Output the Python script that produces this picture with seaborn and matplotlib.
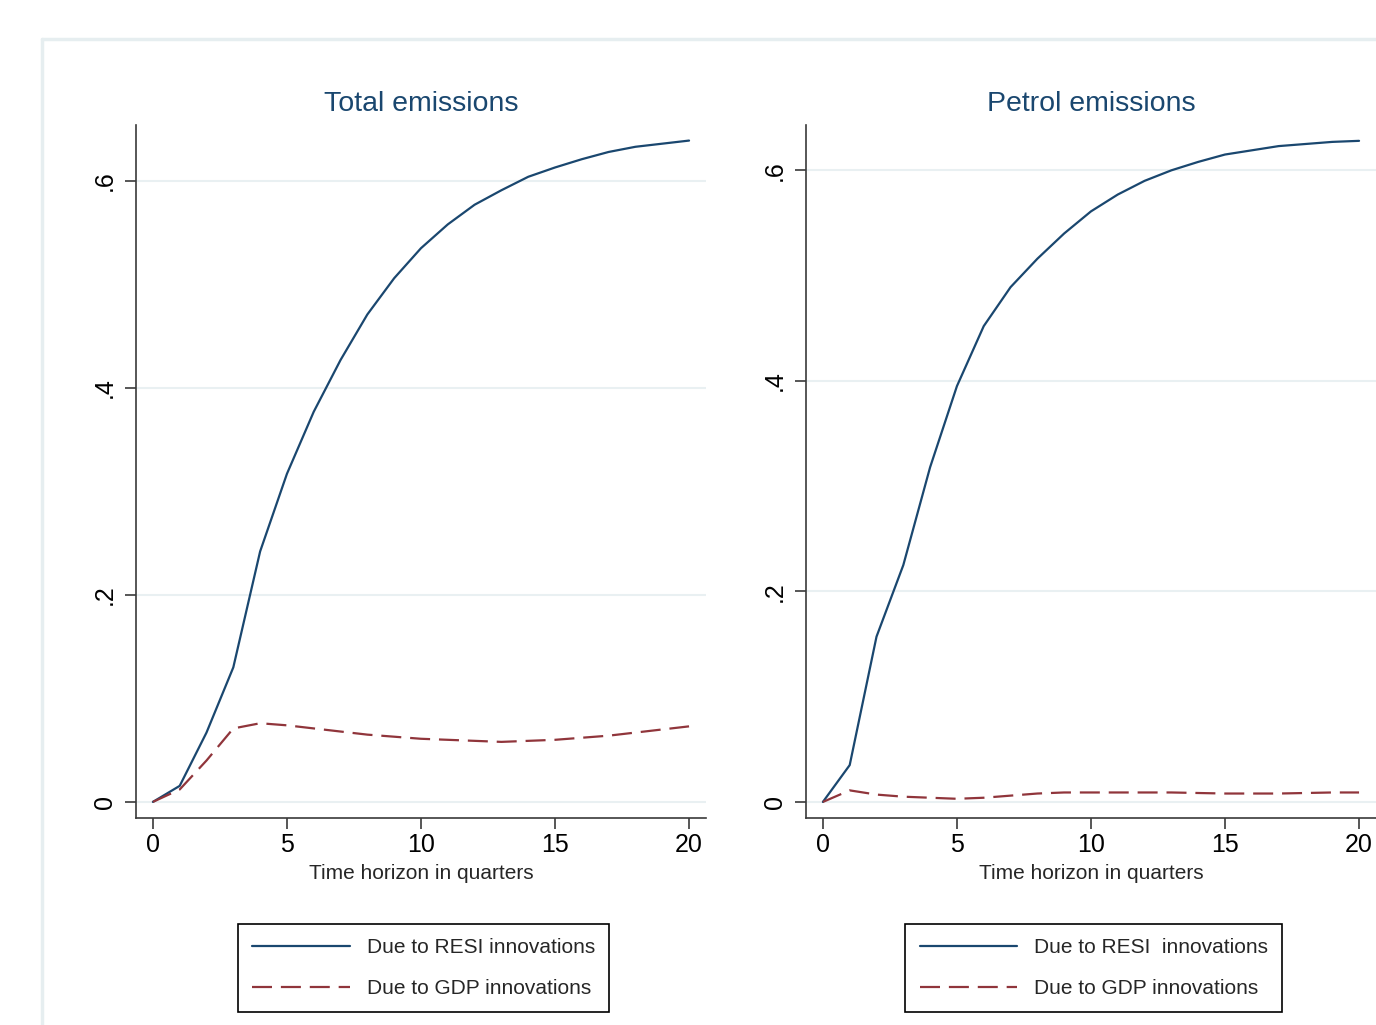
import pandas as pd
import seaborn as sns
import matplotlib.pyplot as plt
from matplotlib.lines import Line2D

# DATA
horizon = list(range(21))

total_resi = [0.0, 0.0155, 0.067, 0.130, 0.242, 0.317, 0.377, 0.427, 0.471, 0.506, 0.535,
              0.558, 0.577, 0.591, 0.604, 0.613, 0.621, 0.628, 0.633, 0.636, 0.639]
total_gdp = [0.0, 0.012, 0.040, 0.071, 0.076, 0.074, 0.071, 0.068, 0.065, 0.063, 0.061,
             0.060, 0.059, 0.058, 0.059, 0.060, 0.062, 0.064, 0.067, 0.070, 0.073]

petrol_resi = [0.0, 0.035, 0.157, 0.225, 0.318, 0.395, 0.452, 0.489, 0.516, 0.540, 0.561,
               0.577, 0.590, 0.600, 0.608, 0.615, 0.619, 0.623, 0.625, 0.627, 0.628]
petrol_gdp = [0.0, 0.011, 0.007, 0.005, 0.004, 0.003, 0.004, 0.006, 0.008, 0.009, 0.009,
              0.009, 0.009, 0.009, 0.0085, 0.008, 0.008, 0.008, 0.0085, 0.009, 0.009]

titles = ["Total emissions", "Petrol emissions"]
legend_labels = [["Due to RESI innovations", "Due to GDP innovations"],
                 ["Due to RESI  innovations", "Due to GDP innovations"]]
yticks = [0, 0.2, 0.4, 0.6]
ytick_labels = ["0", ".2", ".4", ".6"]
xticks = [0, 5, 10, 15, 20]

NAVY = "#1a476f"
MAROON = "#90353b"
GRID = "#e9f0f2"
SPINE = "#3a3a3a"

sns.set_theme(style="white")
plt.rcParams['font.family'] = ['Liberation Sans', 'DejaVu Sans']

fig = plt.figure(figsize=(13.76, 10.25), dpi=100)

# light outer frame (graph region of the original, cropped on right/bottom)
fig.add_artist(Line2D([0.0305, 0.0305], [0.0, 0.962], transform=fig.transFigure,
                      color="#e6eef0", lw=2.5))
fig.add_artist(Line2D([0.0305, 1.0], [0.962, 0.962], transform=fig.transFigure,
                      color="#e6eef0", lw=2.5))

panels = [(total_resi, total_gdp), (petrol_resi, petrol_gdp)]
lefts = [136 / 1376, 806 / 1376]
ylims = [(-0.0155, 0.654), (-0.0152, 0.643)]

for i, (resi, gdp) in enumerate(panels):
    ax = fig.add_axes([lefts[i], 0.2020, 0.4142, 0.676])
    df = pd.DataFrame({
        "h": horizon * 2,
        "val": resi + gdp,
        "src": ["RESI"] * len(resi) + ["GDP"] * len(gdp),
    })
    sns.lineplot(data=df, x="h", y="val", hue="src", style="src", ax=ax,
                 palette={"RESI": NAVY, "GDP": MAROON},
                 dashes={"RESI": "", "GDP": (9, 4)},
                 linewidth=1.6, legend=False)

    ax.set_xlim(-0.63, 20.63)
    ax.set_ylim(*ylims[i])
    ax.set_xticks(xticks)
    ax.set_yticks(yticks)
    ax.set_yticklabels(ytick_labels, rotation=90, va="center")
    ax.tick_params(axis="both", direction="out", length=8, width=1.2, color=SPINE,
                   labelsize=18, labelcolor="black", bottom=True, left=True)
    ax.tick_params(axis="y", pad=6)
    ax.tick_params(axis="x", pad=3)

    for s in ["top", "right"]:
        ax.spines[s].set_visible(False)
    for s in ["left", "bottom"]:
        ax.spines[s].set_color(SPINE)
        ax.spines[s].set_linewidth(1.2)

    ax.yaxis.grid(True, color=GRID, lw=1.5)
    ax.xaxis.grid(False)
    ax.set_axisbelow(True)

    ax.set_title(titles[i], color=NAVY, fontsize=20.5, pad=10)
    ax.set_xlabel("Time horizon in quarters", fontsize=15, labelpad=5)
    ax.set_ylabel("")

    leg = ax.legend(handles=ax.lines[:2], labels=legend_labels[i],
                    loc="upper center", bbox_to_anchor=(0.505, -0.153),
                    fontsize=15, frameon=True, fancybox=False, framealpha=1,
                    edgecolor="black", handlelength=4.7, handletextpad=0.8,
                    borderpad=0.68, labelspacing=1.05, borderaxespad=0)
    leg.get_frame().set_linewidth(1.2)

fig.savefig("out.png", dpi=100)
